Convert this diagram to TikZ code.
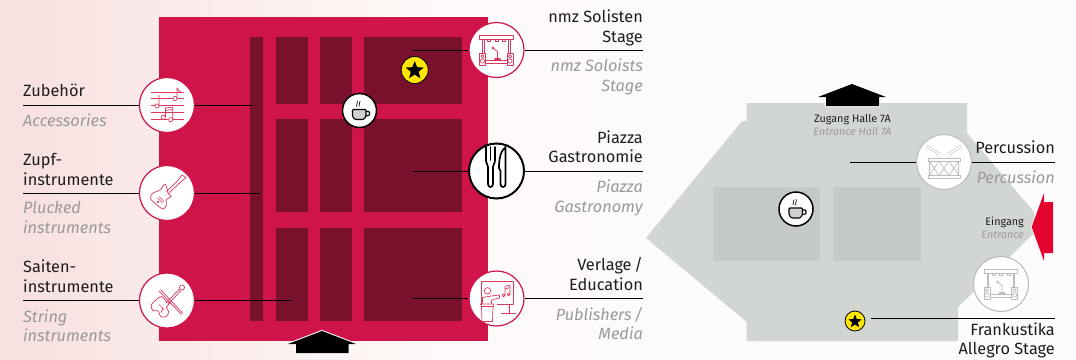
\documentclass[tikz,border=0pt]{standalone}
\usepackage{fontspec}
\setmainfont{Fira Sans}
\usetikzlibrary{shapes.geometric}
\definecolor{hallred}{HTML}{CE1449}
\definecolor{halldark}{HTML}{79112D}
\definecolor{iconpink}{HTML}{D9385F}
\definecolor{plangrey}{HTML}{D2D6D3}
\definecolor{plandark}{HTML}{C6CAC6}
\definecolor{icongrey}{HTML}{BDBDBD}
\definecolor{inkblack}{HTML}{1D1D1B}
\definecolor{subgrey}{HTML}{9A9A9A}
\definecolor{entryred}{HTML}{E4032E}
\definecolor{staryellow}{HTML}{FFE600}
\definecolor{mugfill}{HTML}{D0D0D0}
\definecolor{bgpink}{HTML}{F7E0DF}
\definecolor{bgmid}{HTML}{FEFAF9}
\definecolor{bgwhite}{HTML}{FCFCFC}
\tikzset{
  bigtext/.style={font=\fontsize{16.3}{18}\selectfont,text=inkblack,inner sep=0pt},
  subtext/.style={font=\fontsize{16.3}{18}\selectfont\itshape,text=subgrey,inner sep=0pt},
  smalltext/.style={font=\fontsize{10.8}{12}\selectfont,text=inkblack,inner sep=0pt},
  smallsub/.style={font=\fontsize{10.8}{12}\selectfont\itshape,text=subgrey,inner sep=0pt},
  icircle/.style={circle,fill=white,draw=hallred,line width=1.2pt,minimum size=55pt,inner sep=0pt},
  gcircle/.style={circle,fill=white,draw=icongrey,line width=1.1pt,minimum size=55pt,inner sep=0pt},
  kcircle/.style={circle,fill=white,draw=black,line width=2pt,minimum size=55pt,inner sep=0pt},
  coffeecircle/.style={circle,fill=white,draw=black,line width=1.5pt,minimum size=34pt,inner sep=0pt},
  starbadge/.style={circle,fill=staryellow,draw=black,line width=.8pt,inner sep=0pt},
  blackstar/.style={star,star points=5,star point ratio=2.3,fill=black,inner sep=0pt},
  leader/.style={draw=black,line width=1pt},
  iconline/.style={line width=.7pt,line join=round},
  whitearrow/.style={fill=black,preaction={draw=white,line width=2pt,line join=miter}},
}
\newcommand{\mugicon}[2]{\begin{scope}[shift={(#1,#2)}]
  \draw[black,line width=1.1pt,fill=mugfill,rounded corners=1pt] (-7,-1) -- (6.5,-1) -- (6.5,6) -- (4,9) -- (-4.5,9) -- (-7,6) -- cycle;
  \draw[black,line width=1.1pt,rounded corners=1pt] (6.5,1) -- (10,1) -- (10,5) -- (6,5.5);
  \draw[black,line width=.7pt] (-2,-9.5) .. controls (-4,-7.5) and (-1,-6.5) .. (-3,-4);
  \draw[black,line width=.7pt] (.5,-9.5) .. controls (-1.5,-7.5) and (1.5,-6.5) .. (-.5,-4);
\end{scope}}
\newcommand{\stageicon}[3]{\begin{scope}[shift={(#1,#2)},iconline,color=#3]
  \draw (-17,-14.5) rectangle (16.5,-10.5);
  \draw (-14,-10.5) -- (-14,3) (-12.5,-10.5) -- (-12.5,3) (13.5,-10.5) -- (13.5,3) (12,-10.5) -- (12,3);
  \draw (-9,-10.5) rectangle (-6,-8.5) (-1.5,-10.5) rectangle (1.5,-8.5) (6,-10.5) rectangle (9,-8.5);
  \draw (-17,3) rectangle (-11,15) (10.5,3) rectangle (16.5,15);
  \draw (-14,6.2) circle[radius=1.6] (-14,11) circle[radius=2.1] (13.5,6.2) circle[radius=1.6] (13.5,11) circle[radius=2.1];
  \draw (-11,10.5) -- (10.5,10.5) (-11,13.5) -- (10.5,13.5);
  \draw (-3.5,-2) circle[radius=1.2] (-2.5,-1.2) -- (1,1.5) -- (1,9) (-2,9.5) -- (4,9.5) -- (3.5,8.5) -- (-1.5,8.5) -- cycle;
\end{scope}}
\begin{document}
\begin{tikzpicture}[x=1pt,y=-1pt]
\useasboundingbox (0,0) rectangle (1076,359);
% background
\shade[left color=bgpink,right color=bgmid] (0,0) rectangle (440,359);
\shade[left color=bgmid,right color=bgwhite] (440,0) rectangle (1076,359);
% red hall
\fill[hallred] (159,17) rectangle (487.5,341);
\fill[halldark] (250,37) rectangle (263,321);
\foreach \xa/\xb in {276/308,320/352,364/462}{
  \foreach \ya/\yb in {37/104,119/212,228/321}{
    \fill[halldark] (\xa,\ya) rectangle (\xb,\yb);
  }
}
\path[whitearrow] (322,331) -- (356,344) -- (348.5,344) -- (348.5,353) -- (296,353) -- (296,344) -- (288,344) -- cycle;
% grey hall
\fill[plangrey] (746.7,103) -- (967,103) -- (967,133) -- (1034,212) -- (1034,233) -- (1027,240) -- (958,307) -- (958,341) -- (746.7,341) -- (746.7,322) -- (646,238) -- (742,121) -- (746.7,121) -- cycle;
\fill[plandark] (713,187) rectangle (820,261);
\fill[plandark] (833,187) rectangle (921,261);
\path[whitearrow] (852,84) -- (886,97) -- (879,97) -- (879,106) -- (826,106) -- (826,97) -- (818,97) -- cycle;
\path[fill=entryred,preaction={draw=white,line width=1.6pt,line join=miter}] (1031.6,227) -- (1044,193) -- (1044,202) -- (1053,202) -- (1053,253) -- (1044,253) -- (1044,261) -- cycle;
% anchors of leaders
\coordinate (zubA) at (23,105);   \coordinate (zubB) at (252,105);
\coordinate (zupA) at (23,193);   \coordinate (zupB) at (260,193);
\coordinate (saiA) at (23,300.5); \coordinate (saiB) at (292,300.5);
\coordinate (nmzA) at (643,50);   \coordinate (nmzB) at (413,50);
\coordinate (piaA) at (643,171);  \coordinate (piaB) at (413,171);
\coordinate (verA) at (643,298.5);\coordinate (verB) at (413,298.5);
\coordinate (perA) at (1055,162); \coordinate (perB) at (850,162);
\coordinate (fraA) at (1055,318.5);
% circles
\node[icircle] (zub) at (167,105) {};
\node[icircle] (zup) at (167,193) {};
\node[icircle] (sai) at (167,300.5) {};
\node[icircle] (nmz) at (496.5,50) {};
\node[kcircle] (pia) at (496.5,171) {};
\node[icircle] (ver) at (496.5,298.5) {};
\node[gcircle] (per) at (944,162) {};
\node[gcircle] (fra) at (1001,284) {};
\node[coffeecircle] (cofa) at (359.5,110.5) {};
\node[coffeecircle] (cofb) at (796,209) {};
\node[starbadge,minimum size=27pt] (stara) at (414.7,70) {};
\node[blackstar,minimum size=19pt] (starb) at (414.7,70.5) {};
\node[starbadge,minimum size=20pt] (starc) at (855,321) {};
\node[blackstar,minimum size=14pt] (stard) at (855,321.5) {};
% leaders
\draw[leader] (zubA) -- (zub.west) (zub.east) -- (zubB);
\draw[leader] (zupA) -- (zup.west) (zup.east) -- (zupB);
\draw[leader] (saiA) -- (sai.west) (sai.east) -- (saiB);
\draw[leader] (nmzA) -- (nmz.east) (nmz.west) -- (nmzB);
\draw[leader] (piaA) -- (pia.east) (pia.west) -- (piaB);
\draw[leader] (verA) -- (ver.east) (ver.west) -- (verB);
\draw[leader] (perA) -- (per.east) (per.west) -- (perB);
\coordinate (fraB) at (871,318.5);
\draw[leader] (fraA) -- (fraB);
% coffee
\mugicon{359.5}{110.5}
\mugicon{796}{209}
% music icon
\begin{scope}[shift={(167,105)},iconline,color=iconpink]
  \draw (-16,-12.7) -- (17,-12.7) (-16,-7) -- (17,-7) (-16,0) -- (17,0) (-16,7.5) -- (17,7.5) (-16,14.3) -- (17,14.3);
  \draw[fill=white] (-10,1) circle[radius=2.1] (8,-6.5) circle[radius=2.1] (-3.7,12.3) circle[radius=2.1] (3.7,14.7) circle[radius=2.1];
  \draw (-8,1) -- (-8,-10) (10,-6.5) -- (10,-17) .. controls (11,-14) and (13,-13) .. (15,-12.5);
  \draw (-1.6,12) -- (-1.6,3) -- (5.7,2) -- (5.7,14.5) (-1.6,5.5) -- (5.7,4.5);
\end{scope}
% guitar icon
\begin{scope}[shift={(167,193)},iconline,color=iconpink]
  \draw plot[smooth cycle,tension=.6] coordinates {(-2.3,-9) (-6.3,-3.5) (-14.5,.5) (-16.3,6) (-9,12.7) (-4,16) (-.7,12.7) (-.7,6.5) (4.3,3.5) (1,.5) (.5,-3)};
  \draw (-.5,-1.5) -- (10,-11.5) (1.5,.5) -- (12,-9.5);
  \draw (10,-11.5) -- (15,-18) -- (19,-15.5) -- (12,-9.5);
  \draw (-8,3.5) -- (-3,8.5) (-9.5,5) -- (-4.5,10);
  \draw (-9,9) circle[radius=.8];
\end{scope}
% violin icon
\begin{scope}[shift={(167,300.5)},iconline,color=iconpink]
  \draw plot[smooth cycle,tension=.6] coordinates {(-5.7,-4) (-10.7,-.7) (-15.7,4.3) (-14,10.3) (-9,10.3) (-6.3,16) (-.7,16) (1.7,11) (-.7,7) (2.7,2.7) (-.7,1)};
  \draw (-1,2.5) -- (12.5,-11.5) (1,4) -- (14,-10);
  \draw (15,-13) circle[radius=2.6];
  \draw (-8,4) -- (-3,9) (-6,12) -- (-4,8);
  \draw (-8,-9.5) -- (14.5,14) (-6.5,-11) -- (15.5,12.5);
\end{scope}
% stage icons
\stageicon{496.5}{50}{iconpink}
\stageicon{1001}{284}{icongrey}
% fork and knife
\begin{scope}[shift={(496.5,171)},black,line width=1.7pt,line join=round,line cap=round]
  \draw (-10.5,-24) -- (-10.5,-11) .. controls (-10.5,-7) and (-8.5,-7) .. (-8.5,-4) -- (-8.5,13) .. controls (-8.5,17) and (-3.5,17) .. (-3.5,13) -- (-3.5,-4) .. controls (-3.5,-7) and (-1.5,-7) .. (-1.5,-11) -- (-1.5,-24);
  \draw (-6,-24) -- (-6,-11);
  \draw (9,-24) .. controls (4,-20) and (2.5,-12) .. (2.5,-3) -- (4,0) -- (4,13) .. controls (4,17) and (9,17) .. (9,13) -- cycle;
\end{scope}
% teacher icon
\begin{scope}[shift={(496.5,298.5)},iconline,color=iconpink]
  \draw (-15,6) -- (-15,-17) -- (17,-17) -- (17,6) -- (0,6);
  \draw (-9,-7.7) circle[radius=3.2];
  \draw (-14,5) -- (-14,-1) -- (-5,-2.5) -- (3,-3.5) -- (3,-.5) -- (-5,1.5) -- (-5,5);
  \draw (-16,5.5) -- (-3,5.5) -- (-3.5,8) -- (-4,23) -- (-14.5,23) -- (-15,8) -- cycle;
  \draw (-16,8) -- (-3,8);
  \draw (13,6) -- (13,15) (4,15) -- (19,15);
  \draw (7,-3) circle[radius=1.4] (12,-4) circle[radius=1.4] (8.4,-3) -- (8.4,-12) -- (13.4,-13.5) -- (13.4,-4) (8.4,-9.5) -- (13.4,-11);
\end{scope}
% drum icon
\begin{scope}[shift={(944,162)},iconline,color=icongrey]
  \draw[fill=white] (-16,-4) rectangle (16,-1) (-16,13.5) rectangle (16,16.5);
  \draw (-14.5,-1) rectangle (14.5,13.5);
  \draw (-14.5,-1) -- (-5,13.5) -- (5,-1) -- (14.5,13.5) (-14.5,13.5) -- (-5,-1) -- (5,13.5) -- (14.5,-1);
  \draw[line width=.6pt,double=white,double distance=1.6pt] (-17.5,-16) -- (-4.5,-8);
  \draw[line width=.6pt,double=white,double distance=1.6pt] (17.5,-16) -- (4.5,-8);
\end{scope}
% labels, left
\node[bigtext,anchor=base west] (t1) at (23,96) {Zubehör};
\node[subtext,anchor=base west] (t2) at (23,126) {Accessories};
\node[bigtext,anchor=base west] (t3) at (23,165) {Zupf-};
\node[bigtext,anchor=base west] (t4) at (23,185) {instrumente};
\node[subtext,anchor=base west] (t5) at (23,213) {Plucked};
\node[subtext,anchor=base west] (t6) at (23,233) {instruments};
\node[bigtext,anchor=base west] (t7) at (23,272) {Saiten-};
\node[bigtext,anchor=base west] (t8) at (23,292) {instrumente};
\node[subtext,anchor=base west] (t9) at (23,322) {String};
\node[subtext,anchor=base west] (t10) at (23,341) {instruments};
% labels, middle
\node[bigtext,anchor=base east] (r1) at (643,22) {nmz Solisten};
\node[bigtext,anchor=base east] (r2) at (643,42) {Stage};
\node[subtext,anchor=base east] (r3) at (643,71) {nmz Soloists};
\node[subtext,anchor=base east] (r4) at (643,91) {Stage};
\node[bigtext,anchor=base east] (r5) at (643,143) {Piazza};
\node[bigtext,anchor=base east] (r6) at (643,162) {Gastronomie};
\node[subtext,anchor=base east] (r7) at (643,192) {Piazza};
\node[subtext,anchor=base east] (r8) at (643,212) {Gastronomy};
\node[bigtext,anchor=base east] (r9) at (643,270) {Verlage\,/};
\node[bigtext,anchor=base east] (r10) at (643,290) {Education};
\node[subtext,anchor=base east] (r11) at (643,320) {Publishers\,/};
\node[subtext,anchor=base east] (r12) at (643,339) {Media};
% labels, right
\node[smalltext,anchor=base] (s1) at (852.5,122) {Zugang Halle 7A};
\node[smallsub,anchor=base] (s2) at (852.5,135) {Entrance Hall 7A};
\node[smalltext,anchor=base east] (s3) at (1024,225) {Eingang};
\node[smallsub,anchor=base east] (s4) at (1024,238) {Entrance};
\node[bigtext,anchor=base east] (s5) at (1055,153) {Percussion};
\node[subtext,anchor=base east] (s6) at (1055,183) {Percussion};
\node[bigtext,anchor=base east] (s7) at (1055,335) {Frankustika};
\node[bigtext,anchor=base east] (s8) at (1055,354) {Allegro Stage};
\end{tikzpicture}
\end{document}
